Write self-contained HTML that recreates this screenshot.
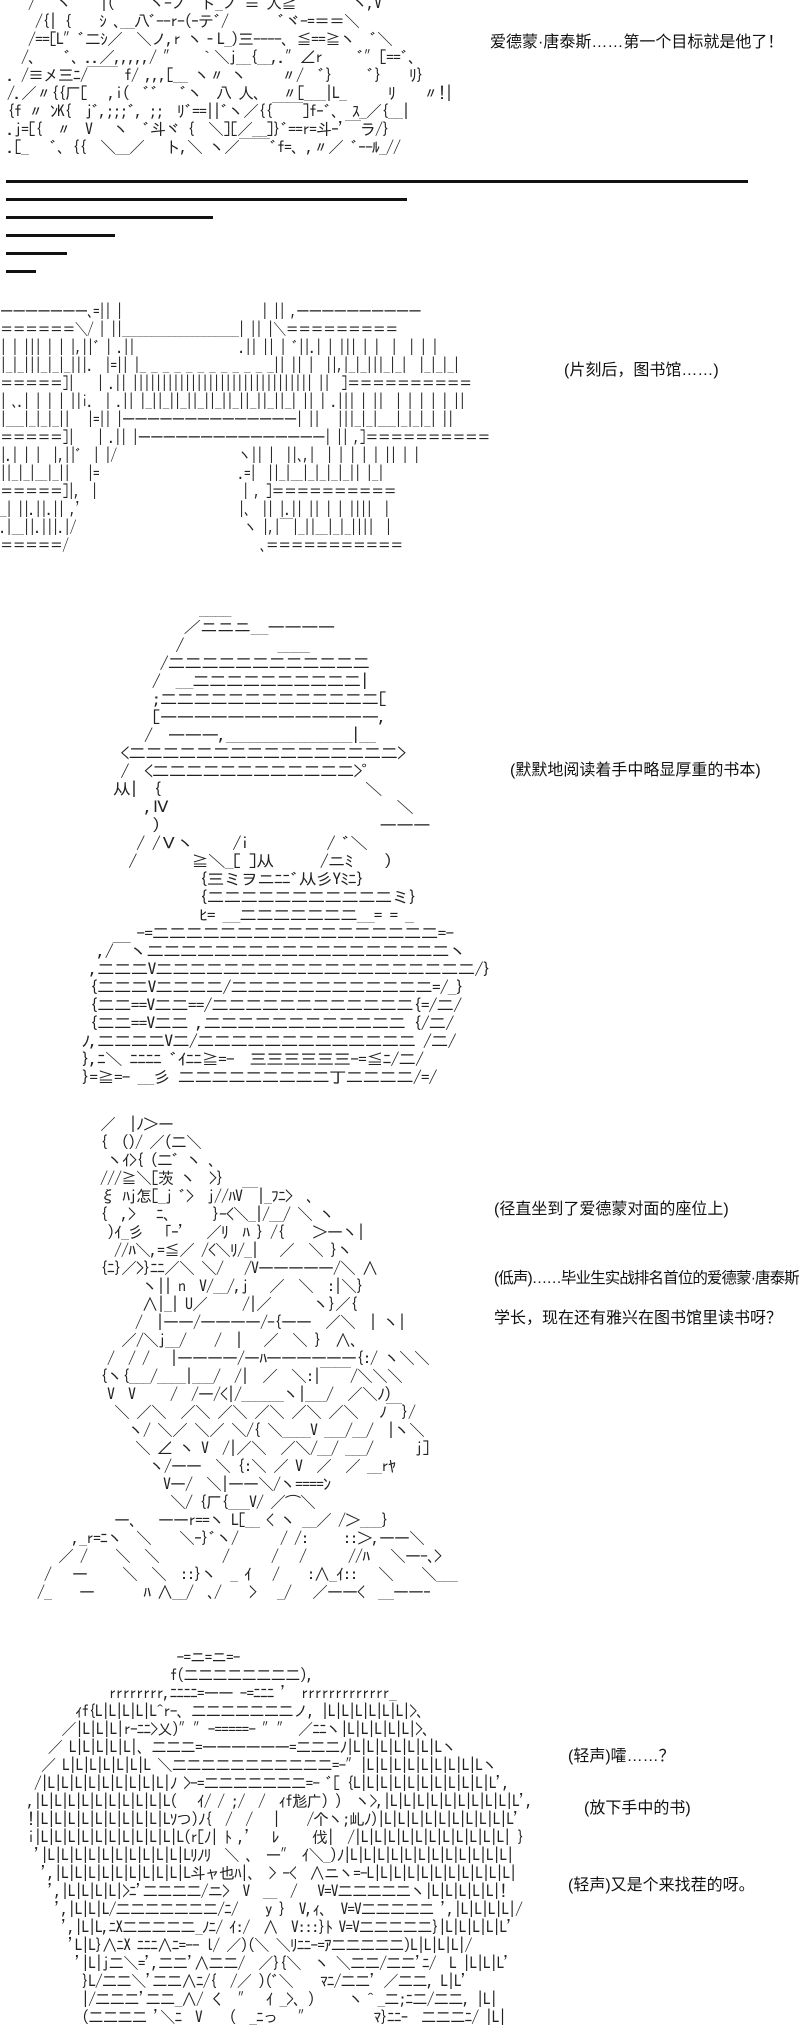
<!DOCTYPE html>
<html><head><meta charset="utf-8">
<style>
html,body{margin:0;padding:0;background:#fff;}
body{width:800px;height:2000px;position:relative;overflow:hidden;}
pre{position:absolute;margin:0;font-family:"IPAGothic","Noto Sans CJK JP",monospace;font-size:16px;line-height:18px;color:#222;white-space:pre;letter-spacing:-1px;transform-origin:0 0;}
.t{position:absolute;font-family:"Liberation Sans","Noto Sans CJK SC",sans-serif;font-size:16px;color:#111;white-space:nowrap;}
.ln{position:absolute;left:6px;height:3px;background:#111;}
</style></head><body>

<pre style="left:0;top:-6px;">    /   ヽ  ｀|(     ヽ-ノ  ト_ノ ≡ 入≧        ヽ,V
     /{|｛    ｼ ､__八ﾞ--r-(ｰテﾞ/       ﾞヾ-=＝＝＼
    /==[L″ﾞ二ｼ／  ＼ノ,r ヽ‐L_)三----、≦==≧ヽ  ﾞ＼
   /､    ﾞ､ ..／,,,,,/ ″   ｀＼j__{__,.″∠r     ﾞ″[==ﾞ、
 . /≡メ三ﾆ/￣￣ f/ ,,,[__ ヽ〃 ヽ     〃/  ﾞ}     ﾞ}    ﾘ}
 /.／〃{{厂[   ,i(  ﾞﾞ   ﾞヽ  八 人、  〃[___|L_      ﾘ    〃!|
 {f 〃 ﾝK{  jﾞ,;;;ﾞ, ;;  ﾘﾞ==||ﾞヽ／{{￣￣]fｰﾞ､  ｽ_／{__|
 .j=[{  〃  V   ヽ  ﾞ斗ヾ {  ＼][／__]}ﾞ==r=斗ｰ'￣ラ/}
 .[_   ﾞ、{{  ＼__／   ト,＼ ヽ／￣￣ﾞf=、,〃／ ﾞｰ-ﾙ_//</pre>

<div class="t" style="left:490px;top:28px;">爱德蒙·唐泰斯……第一个目标就是他了！</div>

<div class="ln" style="top:180px;width:742px;"></div>
<div class="ln" style="top:198px;width:401px;"></div>
<div class="ln" style="top:216px;width:207px;"></div>
<div class="ln" style="top:234px;width:109px;"></div>
<div class="ln" style="top:252px;width:61px;"></div>
<div class="ln" style="top:270px;width:30px;"></div>

<pre style="left:0;top:302px;transform:scaleX(0.83);">―――――――､=|| |                        | || ,――――――――――
＝＝＝＝＝＝＼/ | ||____________________| || |＼＝＝＝＝＝＝＝＝＝
| | ||| | | |,||ﾞ | .||                  .|| || | ﾞ||.| | ||| | |  |  | | |
|_|_|||_|_|_|||.  |=|| |_ _ _ _ _ _ _ _ _ _ _ _|| || |  ||,|_|_|||_|_|  |_|_|_|
＝＝＝＝＝]|    | .|| ||||||||||||||||||||||||||||||| ||  ]＝＝＝＝＝＝＝＝＝＝
| ､.| | | | ||i.  | .|| |_||_||_||_||_||_||_||_||_| || | .||| | ||  | | | | | ||
|___|_|_|_||   |=|| |――――――――――――――| ||   |||_|_|___|_|_|_| ||
＝＝＝＝＝]|    | .|| |―――――――――――――――| || ,]＝＝＝＝＝＝＝＝＝＝
|.| | |  |,||ﾞ  | |/                     ヽ|| |  ||､,|  | | | | | || | |
||_|_|__|_||   |=                        .=|  ||_|__|_|_|_|_|| |_|
＝＝＝＝＝]|,  |                         | , ]＝＝＝＝＝＝＝＝＝＝
_| ||.||.|| ,'                           |､  || |.|| || | | ||||  |
.|__||.|||.|/                             ヽ |,|‾|_||__|_|_||||  |
＝＝＝＝＝/                                 ､＝＝＝＝＝＝＝＝＝＝＝</pre>

<div class="t" style="left:564px;top:356px;">(片刻后，图书馆……)</div>

<pre style="left:50px;top:600px;transform:scaleX(1.12);">                   ____
                 ／ニニニ＿――――
                /            ____
              /二二二二二二二二二二二二
             /  ＿二二二二二二二二二二|
             ;二二二二二二二二二二二二二[
             [―――――――――――――,
            /  ―――,________________|__
         <二二二二二二二二二二二二二二二二>
         /  <二二二二二二二二二二二二>ﾟ
        从|  {                          ＼
            ,Ⅳ                             ＼
             )                            ―――
           / /Ｖヽ     /i          / ﾞ＼
          /       ≧＼_[ ]从      /ニﾐ    )
                   {三ミヲニﾆﾆﾞ从彡Yﾐﾆ}
                   {二二二二二二二二二二二ミ}
                   ﾋ= ＿二二二二二二二＿= = _
           -=二二二二二二二二二二二二二二二二二=-
      ,/￣ヽ二二二二二二二二二二二二二二二二二二ヽ
     ,二二二V二二二二二二二二二二二二二二二二二二二/}
     {二二二V二二二二/二二二二二二二二二二二二=/_}
     {二二==V二二==/二二二二二二二二二二二二{=/二/
     {二二==V二二 ,二二二二二二二二二二二二 {/二/
    ﾉ,二二二二V二/二二二二二二二二二二二二二 /二/
    },ﾆ＼ ﾆﾆﾆﾆ ﾞｲﾆﾆ≧=-  三三三三三三-=≦ﾆ/二/
    }=≧=- __彡 二二二二二二二二二丁二二二二/=/</pre>

<div class="t" style="left:510px;top:756px;">(默默地阅读着手中略显厚重的书本)</div>

<pre style="left:30px;top:1115px;">          ／  |ﾉ＞ー
          {  ()/ ／(二＼
           ヽｲ>{ (二ﾞ ヽ 、
          ///≧＼[茨 ヽ  >}
          ξ ﾊj怎[_j ﾞ>  j//ﾊV￣|_ﾌﾆ>  、
          {  ,>   ﾆ､      }-<＼_|/__/ ＼ ヽ
           )ｲ_彡   ｢ｰ'   ／ﾘ  ﾊ } /{    ＞―ヽ|
            //ﾊ＼,=≦／ /<＼ﾘ/_|   ／  ＼ }ヽ
          {ﾆ}／>}ﾆﾆ／＼ ＼/   /V―――――/＼ ∧
                ヽ|| n  V/__/,j   ／  ＼  :|＼}
                ∧|_| U／     /|／      ヽ}／{
               /  |――/――――/-{――  ／＼  | ヽ|
             ／/＼j__/    /  |   ／  ＼ }  ∧、
           /  / /   |――――/―ﾊ――――――{:/ ヽ＼＼
          {ヽ{___/____|___/  /|  ／  ＼:|￣￣/＼＼＼
           V  V     /  /―/<|/______ヽ|___/  ／＼ﾉ)
            ＼ ／＼  ／＼ ／＼ ／＼ ／＼ ／＼   ﾉ￣}/
              ヽ/ ＼／ ＼／ ＼/{ ＼____V ___/__/  |ヽ＼
               ＼ ∠ ヽ V  /|／＼  ／＼/__/ ___/      j]
                 ヽ/――  ＼ {:＼ ／ V  ／  ／ __rﾔ
                   V―/  ＼|――＼/ヽ====ﾝ
                    ＼/ {厂{___V/ ／⌒＼
            ―、  ――r==ヽ L[__ < ヽ __／ /＞___}
      ,_r=ﾆヽ  ＼    ＼ｰ}ﾞヽ/      / /:     ::＞,――＼
    ／ /    ＼  ＼         /      /   /      //ﾊ   ＼―-､>
  /   ―     ＼  ＼  ::}ヽ  _ ｲ   /    :∧_ｲ::   ＼    ＼___
 /_    ―       ﾊ ∧__/  ､/    >   _/   ／――<  ＿――ｰ</pre>

<div class="t" style="left:494px;top:1195px;">(径直坐到了爱德蒙对面的座位上)</div>
<div class="t" style="left:494px;top:1266px;letter-spacing:-0.9px;font-size:15.5px;">(低声)……毕业生实战排名首位的爱德蒙·唐泰斯</div>
<div class="t" style="left:494px;top:1304px;">学长，现在还有雅兴在图书馆里读书呀？</div>

<pre style="left:0;top:1648px;transform:scaleX(0.97);">                          -=ニ=ニ=-
                         f(二二二二二二二二),
                rrrrrrrr,ﾆﾆﾆﾆ=―― -=ﾆﾆﾆ '  rrrrrrrrrrrrr_
           ｨf{L|L|L|L|L^r-、二二二二二二二ノ, |L|L|L|L|L|L|>、
         ／|L|L|L|r-ﾆﾆ>乂)″″-=====- ″″ ／ﾆﾆヽ|L|L|L|L|L|>、
       ／ L|L|L|L|L|、二二二=――――――=二二二ﾉ|L|L|L|L|L|L|Lヽ
      ／ L|L|L|L|L|L|L ＼二二二二二二二二二二二=-″|L|L|L|L|L|L|L|L|Lヽ
     /|L|L|L|L|L|L|L|L|L|ﾉ >-=二二二二二二二=- ﾞ[ {L|L|L|L|L|L|L|L|L|L|L',
    ,|L|L|L|L|L|L|L|L|L|L(   ｲ/ / ;/  /  ｨf尨广) )  ヽ>,|L|L|L|L|L|L|L|L|L|L',
    !|L|L|L|L|L|L|L|L|L|Lｿつ)ﾉ{  /  /   |    /个ヽ;乢ﾉ)|L|L|L|L|L|L|L|L|L|L'
    i|L|L|L|L|L|L|L|L|L|L|L(r[ﾉ| ﾄ ,'   ﾚ     伐|  /|L|L|L|L|L|L|L|L|L|L|L| }
     '|L|L|L|L|L|L|L|L|L|L|Lﾘﾉﾘ  ＼ ､  ―″ ｲ＼_)ﾉ|L|L|L|L|L|L|L|L|L|L|L|L|
      ',|L|L|L|L|L|L|L|L|L|L斗ャ也ﾊ|、 > -<  ∧ニヽ=-L|L|L|L|L|L|L|L|L|L|L|
       ',|L|L|L|L|>ﾆ'二二二二/ニ>  V  __  /   V=V二二二二二ヽ|L|L|L|L|L|!
        ',|L|L|L/二二二二二二二/ﾆ/    y }  V,ｨ、 V=V二二二二二 ',|L|L|L|L|/
         ',|L|L,ﾆX二二二二二_ﾉﾆ/ ｲ:/  ∧  V:::}ﾄ V=V二二二二二}|L|L|L|L|L'
          'L|L}∧ﾆX ﾆﾆﾆ∧ﾆ=-- l/ ／)(＼ ＼ﾘﾆﾆ-=ｱ二二二二二)L|L|L|L|/
           '|L|j二＼=',二二'∧二二/  ／}{＼  ヽ ＼二二/二二'ﾆ/  L |L|L|L'
            }L/二二＼'二二∧ﾆ/{  /／ )(ﾞ＼    ﾏﾆ/二二' ／二二, L|L'
            |/二二二'二二_∧/ く  ″  ｲ _>、)     ヽ＾_二;ﾆ二/二二, |L|
            (二二二二 '＼ﾆ  V    (  _ﾆっ   ″         ﾏ}ﾆﾆｰ  二二二ﾆ/ |L|</pre>

<div class="t" style="left:568px;top:1742px;">(轻声)嚯……？</div>
<div class="t" style="left:584px;top:1794px;">(放下手中的书)</div>
<div class="t" style="left:568px;top:1871px;">(轻声)又是个来找茬的呀。</div>

</body></html>
